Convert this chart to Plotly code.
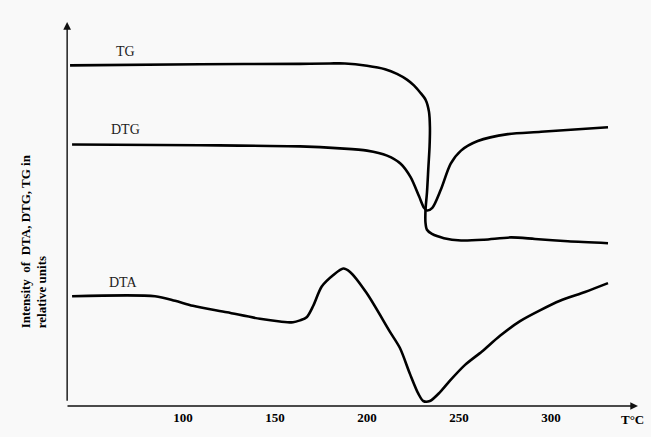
import plotly.graph_objects as go

# ---- data (temperature in °C, intensity in relative units) ----
tg_temp = [38.6, 109.2, 163.6, 179.9, 188.0, 200.0, 209.8, 216.3, 221.7, 225.5, 228.8, 231.9,
           233.7, 234.2, 234.0, 233.4, 232.6, 231.8, 231.8, 232.6, 235.3, 241.8, 251.1, 263.6,
           278.3, 291.3, 309.2, 331.0]
tg_val = [88.7, 89.0, 89.1, 89.2, 89.2, 88.6, 87.7, 86.5, 85.0, 83.5, 81.7, 79.7,
          76.6, 72.6, 67.5, 62.4, 55.6, 51.0, 47.7, 45.9, 44.8, 43.7, 43.1, 43.3,
          43.9, 43.5, 42.9, 42.4]

dtg_temp = [39.7, 109.2, 163.6, 185.3, 200.0, 210.9, 218.3, 223.7, 228.3, 231.0, 232.6, 235.5,
            240.1, 245.5, 251.1, 260.2, 276.6, 294.6, 331.0]
dtg_val = [68.1, 67.9, 67.6, 67.1, 66.5, 65.2, 63.1, 59.6, 54.6, 51.6, 50.9, 51.6,
           56.3, 63.1, 66.5, 69.0, 70.8, 71.4, 72.6]

dta_temp = [39.7, 84.8, 95.7, 105.4, 123.9, 141.8, 152.7, 159.8, 163.6, 167.2, 170.8, 175.4,
            181.7, 187.1, 190.8, 199.8, 212.5, 217.9, 223.4, 227.9, 230.6, 234.2, 239.7, 245.1,
            253.3, 262.5, 272.3, 283.2, 294.0, 304.9, 318.5, 331.0]
dta_val = [28.6, 28.6, 27.4, 26.1, 24.4, 22.7, 22.0, 21.8, 22.3, 23.1, 26.1, 31.1,
           34.1, 35.8, 34.9, 29.4, 19.3, 15.1, 8.3, 3.2, 1.3, 1.3, 3.6, 6.6,
           10.7, 14.2, 18.3, 22.1, 24.9, 27.4, 29.7, 32.0]

tick_values = [100, 150, 200, 250, 300]
tick_labels = ["100", "150", "200", "250", "300"]
curve_names = ["TG", "DTG", "DTA"]

SERIF = '"Liberation Serif", "Times New Roman", Times, serif'

fig = go.Figure()
for name, xs, ys in [("TG", tg_temp, tg_val), ("DTG", dtg_temp, dtg_val), ("DTA", dta_temp, dta_val)]:
    fig.add_trace(go.Scatter(x=xs, y=ys, mode="lines", name=name,
                             line=dict(color="black", width=2.6, shape="spline", smoothing=0.8),
                             showlegend=False, hoverinfo="skip"))

# curve labels
label_pos = {"TG": (69.0, 92.4), "DTG": (68.5, 72.1), "DTA": (67.4, 32.2)}
for name in curve_names:
    lx, ly = label_pos[name]
    fig.add_annotation(x=lx, y=ly, text=name, showarrow=False,
                       font=dict(family=SERIF, size=14, color="#222"),
                       xanchor="center", yanchor="middle")

# axis arrows
fig.add_annotation(x=1, y=0, ax=0, ay=0, xref="x domain", yref="y domain",
                   axref="x domain", ayref="y domain", showarrow=True,
                   arrowhead=2, arrowsize=1.1, arrowwidth=1.4, arrowcolor="#111", text="")
fig.add_annotation(x=0.002, y=1, ax=0.002, ay=0.01, xref="x domain", yref="y domain",
                   axref="x domain", ayref="y domain", showarrow=True,
                   arrowhead=2, arrowsize=1.1, arrowwidth=1.4, arrowcolor="#111", text="")

# axis unit label
fig.add_annotation(x=1, y=0, xref="x domain", yref="y domain", text="T\u00b0C",
                   showarrow=False, xanchor="center", yanchor="top", xshift=-6, yshift=-4,
                   font=dict(family=SERIF, size=13, color="black", weight="bold"))

# y title
fig.add_annotation(x=-0.057, y=0.43, xref="paper", yref="paper", textangle=-90,
                   text="Intensity \u00a0of \u00a0DTA, DTG, TG in<br>relative units",
                   showarrow=False, align="left", xanchor="center", yanchor="middle",
                   font=dict(family=SERIF, size=13, color="black", weight="bold"))

fig.update_layout(
    width=651, height=437,
    margin=dict(l=66, r=13, t=22, b=21),
    paper_bgcolor="#f9f9f9", plot_bgcolor="#f9f9f9",
    xaxis=dict(range=[36.4, 347.3], showgrid=False, zeroline=False, showline=False,
               tickvals=tick_values, ticktext=tick_labels, ticks="", ticklabelstandoff=2,
               tickfont=dict(family=SERIF, size=13, color="black", weight="bold")),
    yaxis=dict(range=[0, 100], showgrid=False, zeroline=False, showline=False,
               showticklabels=False, ticks=""),
)

fig.write_html("out.html",
               config={"displayModeBar": False},
               post_script="var gd=document.getElementById('{plot_id}');"
                           "gd.style.position='fixed';gd.style.left='0px';gd.style.top='0px';"
                           "document.body.style.margin='0';document.body.style.overflow='hidden';"
                           "document.documentElement.style.overflow='hidden';")
